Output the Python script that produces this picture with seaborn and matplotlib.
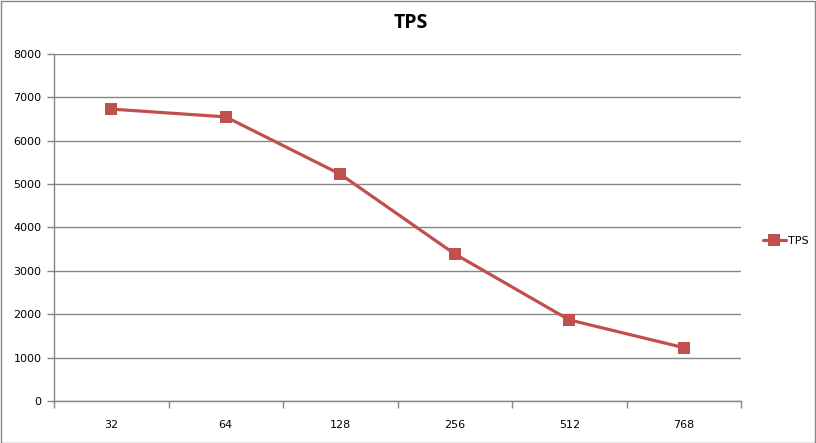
import matplotlib
matplotlib.use("Agg")
import matplotlib.pyplot as plt
import seaborn as sns
import pandas as pd
import numpy as np
from matplotlib.patches import Rectangle

# data
categories = ["32", "64", "128", "256", "512", "768"]
tps = [6730, 6550, 5230, 3390, 1870, 1230]
y_ticks = [0, 1000, 2000, 3000, 4000, 5000, 6000, 7000, 8000]

LINE = "#C0504D"
GRID = "#868686"

sns.set_style("white")
plt.rcParams["font.family"] = ["DejaVu Sans"]
plt.rcParams["text.color"] = "black"
plt.rcParams["xtick.color"] = GRID
plt.rcParams["ytick.color"] = GRID
plt.rcParams["xtick.labelcolor"] = "black"
plt.rcParams["ytick.labelcolor"] = "black"

df = pd.DataFrame({"pos": np.arange(len(categories)), "TPS": tps})

fig = plt.figure(figsize=(8.16, 4.43), dpi=100)
ax = fig.add_axes([54 / 816, 42 / 443, 687 / 816, 347 / 443])

sns.lineplot(data=df, x="pos", y="TPS", ax=ax, color=LINE, linewidth=2.3,
             marker="s", markersize=8, markeredgewidth=0, label="TPS",
             sort=False)

ax.set_xlim(-0.5, len(categories) - 0.5)
ax.set_ylim(0, 8000)
ax.set_yticks(y_ticks)
ax.set_yticklabels([str(v) for v in y_ticks], fontsize=8)
ax.set_xticks(df["pos"])
ax.set_xticklabels(categories, fontsize=8)
ax.set_xticks(np.arange(-0.5, len(categories)), minor=True)
ax.tick_params(axis="x", which="major", bottom=True, length=0, pad=14)
ax.tick_params(axis="x", which="minor", bottom=True, length=5, width=1,
               color=GRID, direction="out")
ax.tick_params(axis="y", left=True, length=5, width=1, color=GRID,
               direction="out", pad=4)
ax.yaxis.grid(True, color=GRID, linewidth=1)
ax.xaxis.grid(False)
ax.set_xlabel("")
ax.set_ylabel("")

for side in ["top", "right"]:
    ax.spines[side].set_visible(False)
for side in ["left", "bottom"]:
    ax.spines[side].set_color(GRID)
    ax.spines[side].set_linewidth(1)

leg = ax.legend(loc="center left", bbox_to_anchor=(1.018, 0.46), frameon=False,
                fontsize=8, handlelength=2.0, handletextpad=0.2)
for t in leg.get_texts():
    t.set_color("black")

fig.text(0.504, 0.948, "TPS", ha="center", va="center", fontsize=14,
         fontweight="bold", color="black", family=["Open Sans", "DejaVu Sans"])

fig.patches.append(Rectangle((0.5 / 816, 0.5 / 443), 814.5 / 816, 441.5 / 443,
                             transform=fig.transFigure, fill=False,
                             edgecolor=GRID, linewidth=1))

fig.savefig("out.png", dpi=100)
